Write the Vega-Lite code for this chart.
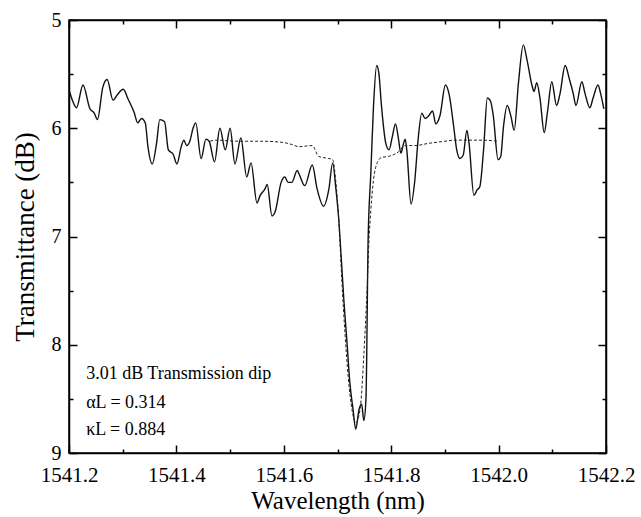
{
  "$schema": "https://vega.github.io/schema/vega-lite/v6.json",
  "width": 537,
  "height": 433,
  "autosize": "none",
  "padding": {"left": 69, "top": 20, "right": 35, "bottom": 64},
  "background": "white",
  "config": {
    "view": {"stroke": "black", "strokeWidth": 1.5},
    "axis": {
      "domainColor": "black", "domainWidth": 1.5, "tickColor": "black", "tickWidth": 1.5,
      "labelFont": "Liberation Serif", "labelFontSize": 21, "labelColor": "black",
      "titleFont": "Liberation Serif", "titleFontSize": 25, "titleFontWeight": "normal", "titleColor": "black",
      "grid": false
    }
  },
  "datasets": {
    "solid": [
      {"x": 1541.201, "y": 5.66}, {"x": 1541.207, "y": 5.75}, {"x": 1541.214, "y": 5.81}, {"x": 1541.226, "y": 5.60},
      {"x": 1541.239, "y": 5.82}, {"x": 1541.247, "y": 5.86}, {"x": 1541.253, "y": 5.92}, {"x": 1541.263, "y": 5.62},
      {"x": 1541.271, "y": 5.55}, {"x": 1541.282, "y": 5.74}, {"x": 1541.290, "y": 5.69}, {"x": 1541.301, "y": 5.64},
      {"x": 1541.310, "y": 5.73}, {"x": 1541.321, "y": 5.85}, {"x": 1541.328, "y": 5.95}, {"x": 1541.335, "y": 5.91},
      {"x": 1541.342, "y": 5.95}, {"x": 1541.347, "y": 6.17}, {"x": 1541.355, "y": 6.33}, {"x": 1541.363, "y": 6.14},
      {"x": 1541.369, "y": 5.92}, {"x": 1541.378, "y": 5.94}, {"x": 1541.385, "y": 6.20}, {"x": 1541.394, "y": 6.24},
      {"x": 1541.401, "y": 6.33}, {"x": 1541.409, "y": 6.17}, {"x": 1541.414, "y": 6.11}, {"x": 1541.419, "y": 6.16},
      {"x": 1541.425, "y": 6.12}, {"x": 1541.431, "y": 6.00}, {"x": 1541.436, "y": 5.95}, {"x": 1541.446, "y": 6.28},
      {"x": 1541.455, "y": 6.10}, {"x": 1541.461, "y": 6.12}, {"x": 1541.471, "y": 6.31}, {"x": 1541.481, "y": 6.00},
      {"x": 1541.491, "y": 6.20}, {"x": 1541.500, "y": 6.00}, {"x": 1541.509, "y": 6.33}, {"x": 1541.520, "y": 6.09},
      {"x": 1541.531, "y": 6.45}, {"x": 1541.539, "y": 6.32}, {"x": 1541.550, "y": 6.69}, {"x": 1541.556, "y": 6.62},
      {"x": 1541.565, "y": 6.56}, {"x": 1541.569, "y": 6.52}, {"x": 1541.578, "y": 6.81}, {"x": 1541.584, "y": 6.77},
      {"x": 1541.595, "y": 6.50}, {"x": 1541.602, "y": 6.45}, {"x": 1541.608, "y": 6.50}, {"x": 1541.615, "y": 6.50},
      {"x": 1541.625, "y": 6.39}, {"x": 1541.629, "y": 6.43}, {"x": 1541.639, "y": 6.53}, {"x": 1541.653, "y": 6.34},
      {"x": 1541.662, "y": 6.56}, {"x": 1541.674, "y": 6.72}, {"x": 1541.684, "y": 6.56}, {"x": 1541.691, "y": 6.32},
      {"x": 1541.697, "y": 6.56}, {"x": 1541.702, "y": 6.82}, {"x": 1541.707, "y": 7.20}, {"x": 1541.712, "y": 7.60},
      {"x": 1541.718, "y": 8.00}, {"x": 1541.723, "y": 8.35}, {"x": 1541.729, "y": 8.60}, {"x": 1541.734, "y": 8.78},
      {"x": 1541.740, "y": 8.60}, {"x": 1541.745, "y": 8.55}, {"x": 1541.749, "y": 8.70}, {"x": 1541.753, "y": 8.50},
      {"x": 1541.757, "y": 7.04}, {"x": 1541.762, "y": 6.42}, {"x": 1541.767, "y": 5.80}, {"x": 1541.773, "y": 5.42},
      {"x": 1541.777, "y": 5.49}, {"x": 1541.782, "y": 5.80}, {"x": 1541.790, "y": 6.14}, {"x": 1541.796, "y": 6.20},
      {"x": 1541.802, "y": 6.08}, {"x": 1541.808, "y": 5.96}, {"x": 1541.813, "y": 6.08}, {"x": 1541.818, "y": 6.23},
      {"x": 1541.823, "y": 6.14}, {"x": 1541.826, "y": 6.10}, {"x": 1541.829, "y": 6.20}, {"x": 1541.837, "y": 6.70},
      {"x": 1541.844, "y": 6.48}, {"x": 1541.850, "y": 6.11}, {"x": 1541.857, "y": 5.86}, {"x": 1541.863, "y": 5.91},
      {"x": 1541.869, "y": 5.89}, {"x": 1541.877, "y": 5.84}, {"x": 1541.883, "y": 5.96}, {"x": 1541.891, "y": 5.88},
      {"x": 1541.901, "y": 5.60}, {"x": 1541.908, "y": 5.69}, {"x": 1541.916, "y": 5.97}, {"x": 1541.922, "y": 6.20},
      {"x": 1541.928, "y": 6.28}, {"x": 1541.934, "y": 6.25}, {"x": 1541.941, "y": 6.02}, {"x": 1541.945, "y": 6.14},
      {"x": 1541.954, "y": 6.62}, {"x": 1541.960, "y": 6.57}, {"x": 1541.965, "y": 6.54}, {"x": 1541.972, "y": 6.20},
      {"x": 1541.979, "y": 5.72}, {"x": 1541.985, "y": 5.75}, {"x": 1541.990, "y": 5.88}, {"x": 1541.999, "y": 6.29},
      {"x": 1542.004, "y": 6.26}, {"x": 1542.009, "y": 5.99}, {"x": 1542.016, "y": 5.79}, {"x": 1542.023, "y": 5.89},
      {"x": 1542.029, "y": 6.02}, {"x": 1542.037, "y": 5.58}, {"x": 1542.046, "y": 5.23}, {"x": 1542.053, "y": 5.37},
      {"x": 1542.062, "y": 5.60}, {"x": 1542.066, "y": 5.66}, {"x": 1542.071, "y": 5.58}, {"x": 1542.077, "y": 5.72},
      {"x": 1542.085, "y": 6.04}, {"x": 1542.091, "y": 5.85}, {"x": 1542.099, "y": 5.57}, {"x": 1542.108, "y": 5.79},
      {"x": 1542.114, "y": 5.69}, {"x": 1542.124, "y": 5.42}, {"x": 1542.132, "y": 5.55}, {"x": 1542.139, "y": 5.68},
      {"x": 1542.144, "y": 5.79}, {"x": 1542.155, "y": 5.57}, {"x": 1542.161, "y": 5.68}, {"x": 1542.170, "y": 5.81},
      {"x": 1542.176, "y": 5.72}, {"x": 1542.185, "y": 5.60}, {"x": 1542.190, "y": 5.68}, {"x": 1542.196, "y": 5.82}
    ],
    "dashed": [
      {"x": 1541.463, "y": 6.12}, {"x": 1541.472, "y": 6.11}, {"x": 1541.518, "y": 6.12}, {"x": 1541.559, "y": 6.12},
      {"x": 1541.597, "y": 6.13}, {"x": 1541.615, "y": 6.15}, {"x": 1541.628, "y": 6.17}, {"x": 1541.653, "y": 6.16},
      {"x": 1541.665, "y": 6.26}, {"x": 1541.684, "y": 6.28}, {"x": 1541.691, "y": 6.29}, {"x": 1541.697, "y": 6.50},
      {"x": 1541.703, "y": 6.90}, {"x": 1541.708, "y": 7.40}, {"x": 1541.714, "y": 7.90}, {"x": 1541.720, "y": 8.30},
      {"x": 1541.727, "y": 8.60}, {"x": 1541.734, "y": 8.72}, {"x": 1541.742, "y": 8.60}, {"x": 1541.749, "y": 8.10},
      {"x": 1541.755, "y": 7.50}, {"x": 1541.759, "y": 7.00}, {"x": 1541.762, "y": 6.76}, {"x": 1541.767, "y": 6.48},
      {"x": 1541.773, "y": 6.33}, {"x": 1541.782, "y": 6.27}, {"x": 1541.795, "y": 6.26}, {"x": 1541.813, "y": 6.22},
      {"x": 1541.826, "y": 6.16}, {"x": 1541.844, "y": 6.16}, {"x": 1541.869, "y": 6.14}, {"x": 1541.900, "y": 6.12},
      {"x": 1541.919, "y": 6.11}, {"x": 1541.941, "y": 6.11}, {"x": 1541.971, "y": 6.11}, {"x": 1541.999, "y": 6.12}
    ],
    "note1": [{"x": 1541.232, "y": 8.27, "label": "3.01 dB Transmission dip"}],
    "note2": [
      {"x": 1541.232, "y": 8.535, "label": "αL = 0.314"},
      {"x": 1541.232, "y": 8.79, "label": "κL = 0.884"}
    ]
  },
  "resolve": {"axis": {"x": "independent", "y": "independent"}},
  "layer": [
    {
      "data": {"name": "solid"},
      "mark": {"type": "line", "color": "#111111", "strokeWidth": 1.4, "interpolate": "monotone"},
      "encoding": {
        "x": {"field": "x", "type": "quantitative",
          "scale": {"domain": [1541.2, 1542.2], "nice": false, "zero": false},
          "axis": {"orient": "bottom", "values": [1541.2, 1541.4, 1541.6, 1541.8, 1542.0, 1542.2], "format": ".1f",
            "tickSize": -8, "labelPadding": 19, "labelFlush": false, "labelOverlap": false, "title": "Wavelength (nm)", "titlePadding": 3}},
        "y": {"field": "y", "type": "quantitative",
          "scale": {"domain": [5, 9], "nice": false, "zero": false, "reverse": true},
          "axis": {"orient": "left", "values": [5, 6, 7, 8, 9], "format": "d", "labelFontSize": 20,
            "tickSize": -8, "labelPadding": 16, "labelFlush": false, "labelOverlap": false, "title": "Transmittance (dB)", "titleFontSize": 27, "titlePadding": 12}}
      }
    },
    {
      "data": {"name": "dashed"},
      "mark": {"type": "line", "color": "#222222", "strokeWidth": 1, "strokeDash": [3, 2], "interpolate": "monotone"},
      "encoding": {
        "x": {"field": "x", "type": "quantitative",
          "axis": {"orient": "top", "values": [1541.2, 1541.4, 1541.6, 1541.8, 1542.0, 1542.2], "labels": false, "tickSize": -8, "title": null}},
        "y": {"field": "y", "type": "quantitative",
          "axis": {"orient": "right", "values": [5, 6, 7, 8, 9], "labels": false, "tickSize": -8, "title": null}}
      }
    },
    {
      "data": {"name": "note1"},
      "mark": {"type": "text", "align": "left", "baseline": "middle", "font": "Liberation Serif", "fontSize": 18, "color": "black"},
      "encoding": {
        "x": {"field": "x", "type": "quantitative",
          "axis": {"orient": "bottom", "values": [1541.3, 1541.5, 1541.7, 1541.9, 1542.1], "labels": false, "domain": false, "tickSize": -4, "title": null}},
        "y": {"field": "y", "type": "quantitative",
          "axis": {"orient": "left", "values": [5.5, 6.5, 7.5, 8.5], "labels": false, "domain": false, "tickSize": -4, "title": null}},
        "text": {"field": "label"}
      }
    },
    {
      "data": {"name": "note2"},
      "mark": {"type": "text", "align": "left", "baseline": "middle", "font": "Liberation Serif", "fontSize": 18, "color": "black"},
      "encoding": {
        "x": {"field": "x", "type": "quantitative",
          "axis": {"orient": "top", "values": [1541.3, 1541.5, 1541.7, 1541.9, 1542.1], "labels": false, "domain": false, "tickSize": -4, "title": null}},
        "y": {"field": "y", "type": "quantitative",
          "axis": {"orient": "right", "values": [5.5, 6.5, 7.5, 8.5], "labels": false, "domain": false, "tickSize": -4, "title": null}},
        "text": {"field": "label"}
      }
    }
  ]
}
